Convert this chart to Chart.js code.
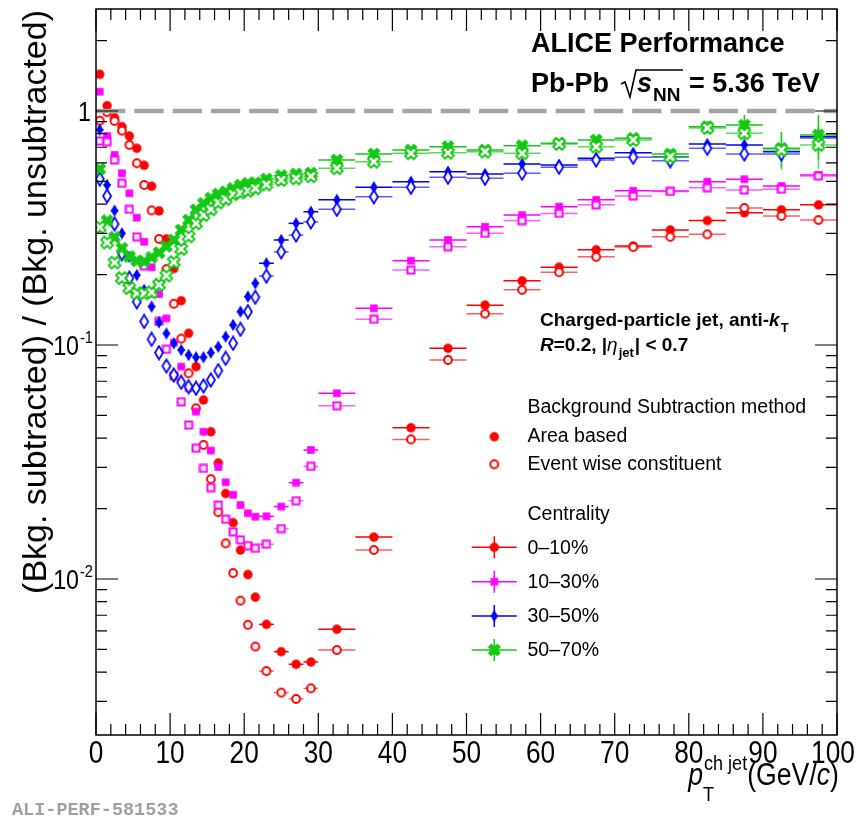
<!DOCTYPE html>
<html><head><meta charset="utf-8">
<script src="https://cdn.jsdelivr.net/npm/chart.js@4.4.1/dist/chart.umd.min.js"></script>
<style>html,body{margin:0;padding:0;background:#fff;overflow:hidden}canvas{display:block}</style>
</head><body>
<canvas id="c" width="863" height="820"></canvas>
<script>
// ---------------- data ----------------
const ptCenters = [0.5,1.5,2.5,3.5,4.5,5.5,6.5,7.5,8.5,9.5,10.5,11.5,12.5,13.5,14.5,15.5,16.5,17.5,18.5,19.5,20.5,21.5,
  23,25,27,29,
  32.5,37.5,42.5,47.5,52.5,57.5,62.5,67.5,72.5,77.5,82.5,87.5,92.5,97.5];
const ptHalfWidths = [0.5,0.5,0.5,0.5,0.5,0.5,0.5,0.5,0.5,0.5,0.5,0.5,0.5,0.5,0.5,0.5,0.5,0.5,0.5,0.5,0.5,0.5,
  1,1,1,1,
  2.5,2.5,2.5,2.5,2.5,2.5,2.5,2.5,2.5,2.5,2.5,2.5,2.5,2.5];

// 0-10%
const c0010Area  = [1.435,1.054,0.936,0.857,0.782,0.693,0.586,0.477,0.374,0.284,0.212,0.1546,0.1122,0.0808,0.0582,0.0426,0.0313,0.0232,0.0174,0.0133,0.01045,0.00836,
  0.0064,0.00489,0.00432,0.00442,
  0.0061,0.0151,0.0443,0.0968,0.148,0.188,0.215,0.255,0.265,0.310,0.340,0.367,0.378,0.397];
const c0010Event = [0.909,0.990,0.906,0.824,0.716,0.598,0.483,0.376,0.284,0.211,0.150,0.1064,0.0757,0.0536,0.0374,0.0267,0.0193,0.0142,0.0106,0.00808,0.00637,0.00514,
  0.00404,0.00327,0.00307,0.00341,
  0.00497,0.0133,0.0395,0.0863,0.136,0.172,0.2045,0.238,0.262,0.290,0.297,0.385,0.356,0.342];
// 10-30%
const c1030Area  = [1.209,0.782,0.649,0.542,0.445,0.350,0.276,0.215,0.165,0.130,0.1023,0.0808,0.0653,0.0519,0.0426,0.0354,0.0301,0.0259,0.0229,0.0207,0.0191,0.01845,
  0.01853,0.0204,0.0258,0.0356,
  0.0622,0.1435,0.229,0.281,0.320,0.359,0.390,0.417,0.456,0.455,0.499,0.511,0.478,0.533];
const c1030Event = [0.744,0.739,0.617,0.491,0.380,0.290,0.218,0.167,0.126,0.0959,0.0737,0.0572,0.0455,0.0362,0.0297,0.0246,0.0207,0.0180,0.0159,0.0147,0.0139,0.01353,
  0.01408,0.01643,0.0216,0.0303,
  0.055,0.1288,0.209,0.263,0.300,0.340,0.365,0.397,0.433,0.453,0.470,0.460,0.463,0.527];
// 30-50%
const c3050Area  = [0.830,0.483,0.375,0.300,0.238,0.199,0.172,0.146,0.125,0.112,0.1017,0.0952,0.0906,0.0886,0.0886,0.0927,0.0983,0.1085,0.1218,0.1388,0.1609,0.1835,
  0.2235,0.281,0.331,0.371,
  0.417,0.472,0.499,0.550,0.538,0.594,0.588,0.628,0.663,0.638,0.723,0.716,0.670,0.777];
const c3050Event = [0.512,0.433,0.329,0.246,0.193,0.153,0.126,0.1058,0.0927,0.0813,0.0744,0.0693,0.0663,0.0653,0.0668,0.0709,0.0777,0.0877,0.1017,0.1167,0.1388,0.160,
  0.197,0.250,0.295,0.336,
  0.380,0.430,0.472,0.521,0.516,0.542,0.575,0.617,0.634,0.613,0.693,0.655,0.655,0.767];
// 50-70%
const c5070Area  = [0.565,0.340,0.289,0.259,0.239,0.229,0.2275,0.237,0.248,0.264,0.281,0.310,0.342,0.378,0.403,0.424,0.442,0.452,0.467,0.483,0.491,0.494,
  0.512,0.530,0.538,0.543,
  0.617,0.655,0.681,0.704,0.681,0.711,0.728,0.752,0.765,0.655,0.857,0.871,0.693,0.790];
const c5070Event = [0.318,0.274,0.225,0.193,0.175,0.166,0.166,0.168,0.181,0.198,0.226,0.257,0.291,0.331,0.359,0.380,0.406,0.420,0.441,0.448,0.456,0.467,
  0.485,0.507,0.515,0.526,
  0.569,0.607,0.659,0.663,0.670,0.659,0.723,0.704,0.752,0.638,0.846,0.803,0.681,0.716];
// vertical (statistical) uncertainties visible for 50-70%
const c5070AreaErr  = [0,0,0,0,0,0,0,0,0,0,0,0,0,0,0,0,0,0,0,0,0,0, 0,0,0,0,
  0.01,0.01,0.01,0.01,0.01,0.015,0.015,0.02,0.025,0.03,0.05,0.09,0.12,0.17];
const c5070EventErr = [0,0,0,0,0,0,0,0,0,0,0,0,0,0,0,0,0,0,0,0,0,0, 0,0,0,0,
  0.01,0.01,0.01,0.01,0.01,0.015,0.015,0.02,0.025,0.03,0.05,0.09,0.12,0.15];

const centralityLabels = ['0\u201310%','10\u201330%','30\u201350%','50\u201370%'];
const methodLabels = ['Area based','Event wise constituent'];
const xTickValues = [0,10,20,30,40,50,60,70,80,90,100];
const yTickValues = [1,0.1,0.01];
const yTickBases = ['1','10','10'];
const yTickExps = ['','-1','-2'];

// ---------------- styling ----------------
const RED='#ff0000', MAG='#ff00ff', BLUE='#0000ff', GREEN='#14c814';
const YMIN=0.002154, YMAX=2.728;
const SANS="'Liberation Sans', Arial, sans-serif";

function mk(w,h,draw){const c=document.createElement('canvas');c.width=w;c.height=h;const x=c.getContext('2d');x.translate(w/2,h/2);draw(x);return c;}
const mCircleF = mk(12,12,x=>{x.fillStyle=RED;x.beginPath();x.arc(0,0,4.7,0,7);x.fill();});
const mCircleO = mk(12,12,x=>{x.fillStyle='#fff';x.strokeStyle=RED;x.lineWidth=2;x.beginPath();x.arc(0,0,3.9,0,7);x.fill();x.stroke();});
const mSquareF = mk(10,10,x=>{x.fillStyle=MAG;x.fillRect(-3.8,-3.8,7.6,7.6);});
const mSquareO = mk(10,10,x=>{x.fillStyle='#fff';x.strokeStyle=MAG;x.lineWidth=2;x.fillRect(-3.5,-3.5,7,7);x.strokeRect(-3.5,-3.5,7,7);});
const mDiamF = mk(10,14,x=>{x.fillStyle=BLUE;x.beginPath();x.moveTo(0,-6.2);x.lineTo(3.7,0);x.lineTo(0,6.2);x.lineTo(-3.7,0);x.closePath();x.fill();});
const mDiamO = mk(12,16,x=>{x.fillStyle='#fff';x.strokeStyle=BLUE;x.lineWidth=1.8;x.beginPath();x.moveTo(0,-6.6);x.lineTo(4,0);x.lineTo(0,6.6);x.lineTo(-4,0);x.closePath();x.fill();x.stroke();});
function xPoly(a,s){const p=[[a,s],[a,a],[s,a],[s,-a],[a,-a],[a,-s],[-a,-s],[-a,-a],[-s,-a],[-s,a],[-a,a],[-a,s]];const r=Math.SQRT1_2;return p.map(([u,v])=>[(u-v)*r,(u+v)*r]);}
function pathPoly(x,p){x.beginPath();p.forEach(([u,v],i)=>i?x.lineTo(u,v):x.moveTo(u,v));x.closePath();}
const mCrossF = mk(18,18,x=>{x.fillStyle=GREEN;pathPoly(x,xPoly(2.5,6.8));x.fill();});
const mCrossO = mk(18,18,x=>{x.fillStyle='#fff';x.strokeStyle=GREEN;x.lineWidth=1.8;x.lineJoin='miter';pathPoly(x,xPoly(2.2,6.2));x.fill();x.stroke();});

const series = [
  {vals:c0010Area,  mk:mCircleF, col:RED,  err:null},
  {vals:c0010Event, mk:mCircleO, col:'rgba(255,40,40,0.75)', err:null},
  {vals:c1030Area,  mk:mSquareF, col:MAG, err:null},
  {vals:c1030Event, mk:mSquareO, col:'rgba(255,40,255,0.75)', err:null},
  {vals:c3050Area,  mk:mDiamF,  col:BLUE, err:null},
  {vals:c3050Event, mk:mDiamO,  col:'rgba(40,40,255,0.75)', err:null},
  {vals:c5070Area,  mk:mCrossF, col:GREEN, err:c5070AreaErr},
  {vals:c5070Event, mk:mCrossO, col:'rgba(40,200,40,0.75)', err:c5070EventErr}
];

// ---------------- text helpers ----------------
function tw(ctx,s,f){ctx.save();ctx.font=f;const w=ctx.measureText(s).width;ctx.restore();return w;}
function txt(ctx,s,x,y,f,col,align,sx,base){ctx.save();ctx.font=f;ctx.fillStyle=col||'#000';ctx.textAlign=align||'left';ctx.textBaseline=base||'alphabetic';ctx.translate(x,y);ctx.scale(sx||1,1);ctx.fillText(s,0,0);ctx.restore();}
function rich(ctx,segs,x,y,col,sx){sx=sx||1;let cx=x;for(const s of segs){txt(ctx,s.t,cx+(s.dx||0),y+(s.dy||0),s.f,col,'left',sx);if(!s.noAdv)cx+=tw(ctx,s.t,s.f)*sx+(s.dx||0);}return cx;}

const rootPlugin = {
  id:'rootStyle',
  beforeDatasetsDraw(chart){
    const ctx=chart.ctx, xs=chart.scales.x, ys=chart.scales.y, a=chart.chartArea;
    ctx.save();ctx.beginPath();ctx.rect(a.left,a.top,a.right-a.left,a.bottom-a.top);ctx.clip();
    ctx.lineWidth=1.5;
    series.forEach(s=>{
      ctx.strokeStyle=s.col;
      s.vals.forEach((v,i)=>{
        const x0=xs.getPixelForValue(ptCenters[i]-ptHalfWidths[i]), x1=xs.getPixelForValue(ptCenters[i]+ptHalfWidths[i]);
        const y=ys.getPixelForValue(v);
        ctx.beginPath();ctx.moveTo(x0,y);ctx.lineTo(x1,y);ctx.stroke();
        if(s.err && s.err[i]>0){
          const xc=xs.getPixelForValue(ptCenters[i]);
          ctx.beginPath();ctx.moveTo(xc,ys.getPixelForValue(v+s.err[i]));ctx.lineTo(xc,ys.getPixelForValue(v-s.err[i]));ctx.stroke();
        }
      });
    });
    ctx.restore();
  },
  afterDraw(chart){
    const ctx=chart.ctx, xs=chart.scales.x, ys=chart.scales.y, a=chart.chartArea;
    ctx.save();
    // frame
    ctx.strokeStyle='#000';ctx.lineWidth=1.5;
    ctx.strokeRect(a.left,a.top,a.right-a.left,a.bottom-a.top);
    // x ticks (inside, bottom and top)
    ctx.lineWidth=1.2;
    for(let v=0;v<=100;v+=2){
      const x=xs.getPixelForValue(v), L=(v%10===0)?22:11;
      ctx.beginPath();ctx.moveTo(x,a.bottom);ctx.lineTo(x,a.bottom-L);ctx.moveTo(x,a.top);ctx.lineTo(x,a.top+L);ctx.stroke();
    }
    // y ticks (log)
    for(let d=-3;d<=0;d++){
      for(let m=1;m<=9;m++){
        const v=m*Math.pow(10,d); if(v<YMIN||v>YMAX) continue;
        const y=ys.getPixelForValue(v), L=(m===1)?22:11;
        ctx.beginPath();ctx.moveTo(a.left,y);ctx.lineTo(a.left+L,y);ctx.moveTo(a.right,y);ctx.lineTo(a.right-L,y);ctx.stroke();
      }
    }
    // x tick labels
    const fTick="32px "+SANS;
    xTickValues.forEach(v=>txt(ctx,String(v),xs.getPixelForValue(v)-(v===100?4:0),763,fTick,'#000','center',0.82));
    // y tick labels
    const fY="27px "+SANS, fYs="17px "+SANS, ysx=0.86;
    yTickValues.forEach((v,i)=>{
      const y=ys.getPixelForValue(v);
      const right=93;
      const we=yTickExps[i]?tw(ctx,yTickExps[i],fYs)*ysx:0;
      const wb=tw(ctx,yTickBases[i],fY)*ysx;
      txt(ctx,yTickBases[i],right-we-wb-(we?1:2),y+10,fY,'#000','left',ysx);
      if(we) txt(ctx,yTickExps[i],right-we,y-2,fYs,'#000','left',ysx);
    });
    // y axis title
    ctx.save();ctx.translate(46,10);ctx.rotate(-Math.PI/2);
    ctx.font="34px "+SANS;ctx.fillStyle='#000';ctx.textAlign='right';ctx.textBaseline='alphabetic';
    ctx.fillText('(Bkg. subtracted) / (Bkg. unsubtracted)',0,0);ctx.restore();
    // x axis title  p_T^{ch jet}(GeV/c)
    {
      const sx=0.86, fB="31px "+SANS, fI="italic 31px "+SANS, fS="21px "+SANS;
      const wp=tw(ctx,'p',fI)*sx, wsup=Math.max(tw(ctx,'ch jet',fS),tw(ctx,'T',fS))*sx;
      const wrest=(tw(ctx,'(GeV/',fB)+tw(ctx,'c',fI)+tw(ctx,')',fB))*sx;
      let x=838-(wp+wsup+wrest), y=785;
      txt(ctx,'p',x,y,fI,'#000','left',sx); x+=wp+1;
      txt(ctx,'ch jet',x,y-15,fS,'#000','left',sx);
      txt(ctx,'T',x-1,y+16,fS,'#000','left',sx);
      x+=wsup;
      rich(ctx,[{t:'(GeV/',f:fB},{t:'c',f:fI},{t:')',f:fB}],x,y,'#000',sx);
    }
    // header texts
    const fH="bold 27px "+SANS;
    txt(ctx,'ALICE Performance',531,52,fH,'#000','left',1);
    txt(ctx,'Pb-Pb',531,92,fH,'#000','left',1);
    ctx.strokeStyle='#000';ctx.lineWidth=1.6;ctx.beginPath();
    ctx.moveTo(621,84);ctx.lineTo(625,82);ctx.lineTo(630,97);ctx.lineTo(636,70);ctx.lineTo(683,70);ctx.stroke();
    let hx=rich(ctx,[{t:'s',f:"italic bold 27px "+SANS}],637,92,'#000',1);
    txt(ctx,'NN',hx+1,101,"bold 19px "+SANS,'#000','left',1);
    txt(ctx,'= 5.36 TeV',689,92,fH,'#000','left',1);
    // jet info
    const fJ="bold 19px "+SANS;
    let jx=rich(ctx,[{t:'Charged-particle jet, anti-',f:fJ},{t:'k',f:"italic bold 19px "+SANS}],540,326,'#000',1);
    txt(ctx,'T',jx+1,332,"bold 13px "+SANS,'#000','left',1);
    jx=rich(ctx,[{t:'R',f:"italic bold 19px "+SANS},{t:'=0.2, |',f:fJ},{t:'\u03b7',f:"italic 19px "+SANS}],540,351,'#000',1);
    txt(ctx,'jet',jx+1,357,"bold 13px "+SANS,'#000','left',1);
    jx+=tw(ctx,'jet',"bold 13px "+SANS)+2;
    txt(ctx,'| < 0.7',jx,351,fJ,'#000','left',1);
    // legend
    const fL="19.5px "+SANS, LX=527.5, MX=494.3;
    txt(ctx,'Background Subtraction method',LX,408,fL,'#000','left',1,'middle');
    ctx.drawImage(mCircleF,MX-mCircleF.width/2,436.7-mCircleF.height/2);
    txt(ctx,methodLabels[0],LX,436.7,fL,'#000','left',1,'middle');
    ctx.drawImage(mCircleO,MX-mCircleO.width/2,464.3-mCircleO.height/2);
    txt(ctx,methodLabels[1],LX,465,fL,'#000','left',1,'middle');
    txt(ctx,'Centrality',LX,515,fL,'#000','left',1,'middle');
    const legY=[547.3,581.7,616,650], legC=[RED,MAG,BLUE,GREEN], legM=[mCircleF,mSquareF,mDiamF,mCrossF];
    legY.forEach((y,i)=>{
      ctx.strokeStyle=legC[i];ctx.lineWidth=1.5;ctx.beginPath();
      ctx.moveTo(471.7,y);ctx.lineTo(516.7,y);ctx.moveTo(MX,y-11);ctx.lineTo(MX,y+11);ctx.stroke();
      ctx.drawImage(legM[i],MX-legM[i].width/2,y-legM[i].height/2);
      txt(ctx,centralityLabels[i],LX,y+1,fL,'#000','left',1,'middle');
    });
    // watermark
    txt(ctx,'ALI-PERF-581533',12,815,"bold 18.5px 'Liberation Mono', monospace",'#a0a0a0','left',1);
    ctx.restore();
  }
};

const datasets = [{
  type:'line', data:[{x:0,y:1},{x:100,y:1}], showLine:true, borderColor:'#a4a4a4', borderWidth:4.5,
  borderDash:[29.3,9], pointRadius:0, fill:false
}];
// drawn so that 50-70% ends on top (first dataset is painted last)
[7,6,5,4,3,2,1,0].forEach(k=>{
  const s=series[k];
  datasets.push({data:ptCenters.map((x,i)=>({x:x,y:s.vals[i]})), pointStyle:s.mk, pointRadius:5, pointHoverRadius:5, showLine:false});
});

new Chart(document.getElementById('c'),{
  type:'scatter',
  data:{datasets:datasets},
  options:{
    responsive:false, animation:false, devicePixelRatio:1, events:[],
    layout:{padding:{left:96,right:26,top:9,bottom:85}},
    plugins:{legend:{display:false},tooltip:{enabled:false}},
    scales:{
      x:{type:'linear',min:0,max:100,display:false},
      y:{type:'logarithmic',min:YMIN,max:YMAX,display:false}
    }
  },
  plugins:[rootPlugin]
});
</script>
</body></html>
